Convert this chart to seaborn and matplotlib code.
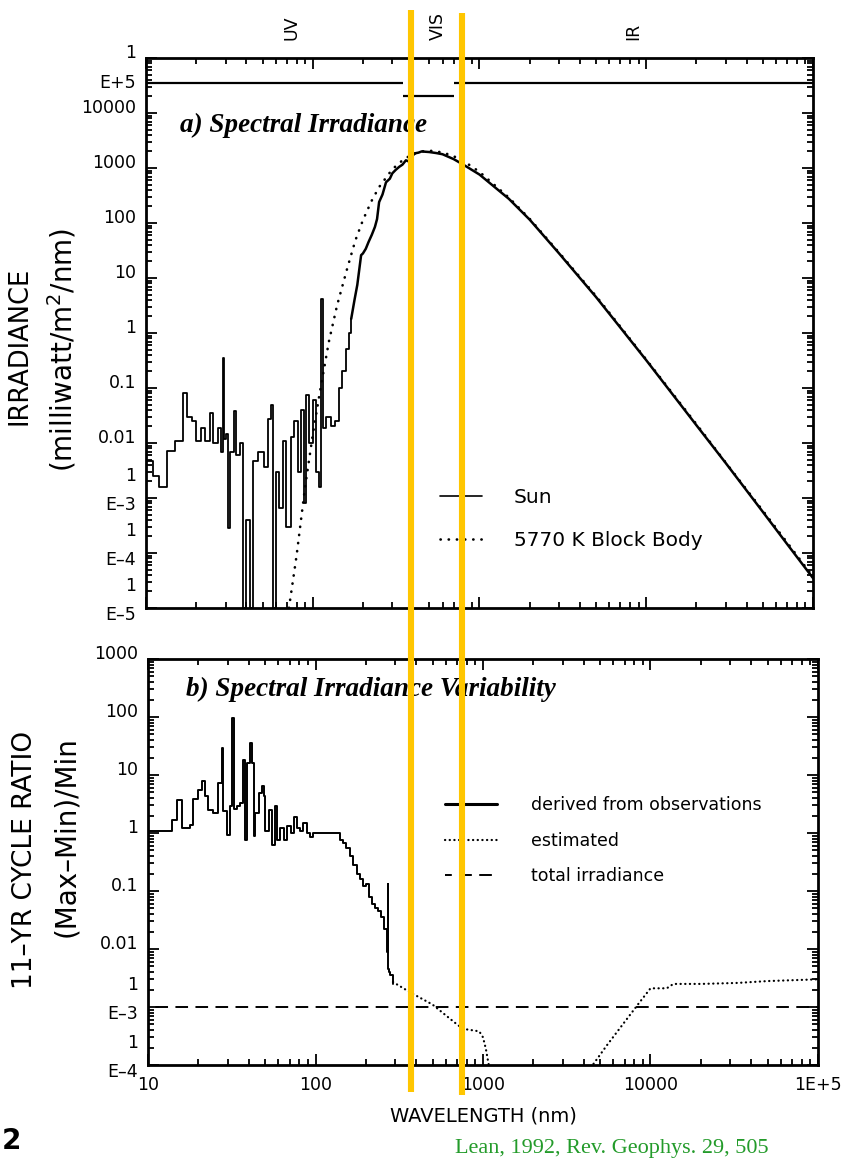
import numpy as np
import seaborn as sns
import matplotlib
matplotlib.use("Agg")
import matplotlib.pyplot as plt
from matplotlib.lines import Line2D
from matplotlib.ticker import LogLocator, NullFormatter
from matplotlib.transforms import ScaledTranslation, blended_transform_factory

# ---------------- a) spectral irradiance (mW/m2/nm) ----------------
# UV part of the measured sun spectrum (stepped)
sun_uv_wl = [10, 11, 12, 13.3, 14.9, 16.7, 17.5, 18.8, 20, 21.5, 22.6, 24.1, 25.2, 27,
             28.3, 28.9, 29.5, 30.3, 31, 31.7, 33.9, 34.7, 36.4, 38.1, 39.9, 41.8, 43.8,
             46.8, 51.3, 53.7, 56.3, 57.6, 60.2, 63, 65.9, 69, 74, 77.5, 81.2, 85, 89, 91,
             95.3, 100, 104.6, 109.5, 112, 114.5, 120, 128, 136, 144, 150, 158, 164, 170]
sun_uv_irr = [4.8e-3, 2.5e-3, 1.6e-3, 7.2e-3, 0.011, 0.08, 0.03, 0.025, 0.011, 0.019, 0.011,
              0.035, 0.010, 0.019, 0.007, 0.35, 0.012, 0.0145, 2.9e-4, 7e-3, 0.038, 6e-3,
              0.01, 1e-5, 3.9e-4, 1e-5, 4.8e-3, 7e-3, 3.7e-3, 0.027, 0.05, 1e-5, 3e-3,
              6.6e-4, 0.011, 3e-4, 0.013, 0.025, 3e-3, 0.04, 8e-4, 0.075, 0.01, 0.06, 3e-3,
              1.6e-3, 4.2, 0.019, 0.03, 0.02, 0.025, 0.1, 0.2, 0.52, 1.0, 1.8]
# rest of the sun spectrum
sun_wl = [170, 178, 185, 195, 200, 208, 216, 226, 236, 243, 250, 262, 275, 290, 300, 315,
          330, 345, 362, 380, 395, 410, 430, 450, 500, 550, 600, 700, 800, 1000, 1500,
          2000, 3000, 5000, 7000, 10000, 20000, 30000, 50000, 70000, 100000]
sun_irr = [1.8, 4, 7.5, 26, 28, 34, 45, 61, 85, 118, 240, 330, 550, 640, 800, 930, 1050,
           1150, 1380, 1300, 1650, 1850, 1900, 2000, 1950, 1870, 1780, 1450, 1150, 760,
           275, 115, 28, 4.5, 1.25, 0.32, 0.021, 4.3e-3, 5.6e-4, 1.45e-4, 3.5e-5]
# 5770 K black body
bb_wl = [72, 80, 90, 100, 110, 125, 140, 160, 180, 200, 225, 250, 300, 350, 400, 450, 500,
         600, 700, 850, 1000, 1500, 2000, 3000, 5000, 7000, 10000, 20000, 30000, 50000,
         70000, 100000]
bb_irr = [1e-5, 9e-5, 1.6e-3, 0.014, 0.08, 0.7, 3.2, 14, 48, 113, 250, 450, 950, 1430,
          1800, 2000, 2070, 1920, 1640, 1190, 850, 290, 119, 29, 4.7, 1.3, 0.33, 0.022,
          4.4e-3, 5.9e-4, 1.55e-4, 3.7e-5]

# UV / VIS / IR indicator bar at the top of panel a
band_edges = [10, 350, 700, 100000]
band_level = [3.5e4, 2.0e4, 3.5e4]
band_names = ["UV", "VIS", "IR"]
band_label_wl = [75, 560, 8300]

# visible range marked by the two yellow lines
vis_bounds = [372, 745]

# ---------------- b) 11-yr cycle variability ratio ----------------
obs_wl = [10, 13.9, 14.8, 15.9, 17.8, 18.6, 19.9, 20.9, 21.9, 22.9, 24.5, 26.3, 27.5, 28.1,
          29.5, 30.9, 31.6, 32.5, 33.8, 35.4, 37.1, 38.2, 38.9, 40.8, 41.5, 42.7, 43.7,
          45.7, 47.9, 49.0, 50.2, 52.5, 55.0, 57.5, 58.9, 61.5, 64.5, 67.6, 71.0, 74.0,
          77.5, 81.0, 84.6, 88.5, 92.6, 97.0, 106, 120, 140, 146, 153, 160, 168, 176,
          185, 193, 200, 209, 218, 226, 235, 245, 256, 266, 270, 272, 276, 280, 290]
obs_ratio = [1.1, 1.7, 3.75, 1.2, 1.4, 3.9, 5.6, 7.8, 4.3, 2.5, 2.2, 7.3, 29, 2.4, 0.93,
             2.9, 96, 2.6, 2.9, 3.3, 18.3, 0.77, 16, 35.6, 16, 0.89, 2.2, 4.9, 6.4, 4.3,
             1.08, 2.5, 0.62, 2.9, 0.77, 1.2, 0.77, 1.3, 1.0, 1.9, 1.2, 1.1, 1.5, 1.0,
             0.85, 1.0, 1.0, 1.0, 0.75, 0.67, 0.55, 0.4, 0.28, 0.2, 0.16, 0.12, 0.13,
             0.078, 0.06, 0.05, 0.045, 0.035, 0.022, 0.009, 0.13, 0.0045, 0.004, 0.0035,
             0.0025]
est_uv_wl = [290, 366, 500, 700, 760, 850, 950, 1000, 1040, 1070, 1090]
est_uv = [2.7e-3, 1.8e-3, 1.1e-3, 5e-4, 4.2e-4, 4e-4, 3.8e-4, 3e-4, 1.9e-4, 1.2e-4, 9e-5]
est_ir_wl = [4400, 5500, 7000, 8500, 10000, 12500, 13700, 20000, 33000, 50000, 100000]
est_ir = [9e-5, 2.2e-4, 5.5e-4, 1.15e-3, 2.1e-3, 2.1e-3, 2.5e-3, 2.5e-3, 2.6e-3, 2.8e-3,
          3.0e-3]
tsi_wl = [10, 100000]
tsi_ratio = [1e-3, 1e-3]

x_ticks = [10, 100, 1000, 10000, 100000]
x_labels = ["10", "100", "1000", "10000", "1E+5"]
a_exps = [-5, -4, -3, -2, -1, 0, 1, 2, 3, 4, 5]
a_labels = ["E\u20135", "E\u20134", "E\u20133", "0.01", "0.1", "1", "10", "100", "1000",
            "10000", "1"]
b_exps = [-4, -3, -2, -1, 0, 1, 2, 3]
b_labels = ["E\u20134", "E\u20133", "0.01", "0.1", "1", "10", "100", "1000"]

sns.set_theme(style="ticks")
plt.rcParams.update({
    "font.family": ["DejaVu Sans"],
    "axes.edgecolor": "black",
    "axes.linewidth": 2.0,
    "xtick.color": "black",
    "ytick.color": "black",
    "text.color": "black",
    "axes.labelcolor": "black",
})

W, H = 845, 1165
fig = plt.figure(figsize=(W / 100, H / 100), dpi=100)
ax_a = fig.add_axes([146 / W, 1 - 608 / H, 667 / W, 550 / H])
ax_b = fig.add_axes([148 / W, 1 - 1065 / H, 670 / W, 406 / H])
ink = "black"
dotted = (0, (0.1, 3.0))
fine_dots = (0, (0.1, 2.0))
dashed = (6.5, (6.5, 3.8))

# panel a
sns.lineplot(x=sun_uv_wl, y=sun_uv_irr, ax=ax_a, color=ink, lw=1.3,
             drawstyle="steps-post", estimator=None, sort=False)
sns.lineplot(x=sun_wl, y=sun_irr, ax=ax_a, color=ink, lw=1.8, estimator=None, sort=False)
sns.lineplot(x=bb_wl, y=bb_irr, ax=ax_a, color=ink, lw=1.9, linestyle=dotted,
             dash_capstyle="round", estimator=None, sort=False)
ax_a.hlines(band_level, band_edges[:-1], band_edges[1:], color=ink, lw=1.6)

# panel b
sns.lineplot(x=obs_wl, y=obs_ratio, ax=ax_b, color=ink, lw=1.4,
             drawstyle="steps-post", estimator=None, sort=False)
for wl, r in [(est_uv_wl, est_uv), (est_ir_wl, est_ir)]:
    sns.lineplot(x=wl, y=r, ax=ax_b, color=ink, lw=1.6, linestyle=fine_dots,
                 dash_capstyle="round", estimator=None, sort=False)
sns.lineplot(x=tsi_wl, y=tsi_ratio, ax=ax_b, color=ink, lw=1.4, linestyle=dashed,
             estimator=None, sort=False)


def style_axis(ax, exps, labels, ylim):
    ax.set_xscale("log")
    ax.set_yscale("log")
    ax.set_xlim(10, 1e5)
    ax.set_ylim(*ylim)
    ax.set_xlabel("")
    ax.set_ylabel("")
    ax.set_xticks(x_ticks, x_labels)
    ax.set_yticks([10.0 ** e for e in exps], labels)
    ax.xaxis.set_minor_locator(LogLocator(base=10, subs=np.arange(2, 10), numticks=100))
    ax.yaxis.set_minor_locator(LogLocator(base=10, subs=np.arange(2, 10), numticks=100))
    ax.xaxis.set_minor_formatter(NullFormatter())
    ax.yaxis.set_minor_formatter(NullFormatter())
    ax.tick_params(which="both", direction="in", top=True, right=True, width=1.3,
                   labelsize=12.5)
    ax.tick_params(which="major", length=8)
    ax.tick_params(which="minor", length=4)
    ax.tick_params(axis="y", pad=7)
    ax.tick_params(axis="x", pad=8)
    for s in ax.spines.values():
        s.set_linewidth(2.0)
    # the old plotter puts plain labels a bit above the tick, E labels a bit below
    for tick, lab in zip(ax.yaxis.get_major_ticks(), labels):
        dy = -5 if lab.startswith("E") else 7
        t = tick.label1
        t.set_transform(t.get_transform() + ScaledTranslation(0, dy / 100, fig.dpi_scale_trans))
    for e, lab in zip(exps, labels):
        if lab.startswith("E"):
            ax.annotate("1", xy=(0, 10.0 ** e), xycoords=("axes fraction", "data"),
                        xytext=(-7, 16), textcoords="offset points", ha="right",
                        va="center", fontsize=12.5)


style_axis(ax_a, a_exps, a_labels, (1e-5, 1e5))
style_axis(ax_b, b_exps, b_labels, (1e-4, 1e3))
ax_a.tick_params(labelbottom=False)
ax_a.annotate("E+5", xy=(0, 1e5), xycoords=("axes fraction", "data"), xytext=(-7, -18),
              textcoords="offset points", ha="right", va="center", fontsize=12.5)

# band names above panel a
band_tr = blended_transform_factory(ax_a.transData, ax_a.transAxes)
for wl, name in zip(band_label_wl, band_names):
    ax_a.text(wl, 1.033, name, transform=band_tr, rotation=90, ha="center", va="bottom",
              fontsize=12.5)

title_font = dict(family="Liberation Serif", fontsize=19.5, fontweight="bold",
                  fontstyle="italic")
ax_a.text(0.051, 0.878, "a) Spectral Irradiance", transform=ax_a.transAxes, ha="left",
          va="center", **title_font)
ax_b.text(0.057, 0.924, "b) Spectral Irradiance Variability", transform=ax_b.transAxes,
          ha="left", va="center", **title_font)

# legends
h_sun = Line2D([], [], color=ink, lw=1.2)
h_bb = Line2D([], [], color=ink, lw=1.9, ls=dotted, dash_capstyle="round")
ax_a.legend([h_sun, h_bb], ["Sun", "5770 K Block Body"], loc="upper left",
            bbox_to_anchor=(440 / W, 1 - 488 / H), bbox_transform=fig.transFigure,
            frameon=False, fontsize=14.5, handlelength=2.1, handletextpad=1.55,
            labelspacing=1.17, borderpad=0, borderaxespad=0)
h_obs = Line2D([], [], color=ink, lw=2.2)
h_est = Line2D([], [], color=ink, lw=1.6, ls=fine_dots, dash_capstyle="round")
h_tsi = Line2D([], [], color=ink, lw=1.4, ls=(3, (6.5, 3.8)))
ax_b.legend([h_obs, h_est, h_tsi],
            ["derived from observations", "estimated", "total irradiance"],
            loc="upper left", bbox_to_anchor=(445 / W, 1 - 796 / H),
            bbox_transform=fig.transFigure, frameon=False, fontsize=12.5,
            handlelength=3.0, handletextpad=1.95, labelspacing=1.02, borderpad=0,
            borderaxespad=0)

ax_b.set_xlabel("WAVELENGTH (nm)", fontsize=14, labelpad=9)

fig.text(20 / W, 1 - 346 / H, "IRRADIANCE", rotation=90, ha="center", va="center",
         fontsize=18.5)
fig.text(62 / W, 1 - 350 / H, "(milliwatt/m$^2$/nm)", rotation=90, ha="center",
         va="center", fontsize=20)
fig.text(25 / W, 1 - 860 / H, "11\u2013YR CYCLE RATIO", rotation=90, ha="center",
         va="center", fontsize=19)
fig.text(66 / W, 1 - 837 / H, "(Max\u2013Min)/Min", rotation=90, ha="center",
         va="center", fontsize=20)

fig.text(455 / W, 1 - 1148 / H, "Lean, 1992, Rev. Geophys. 29, 505", ha="left",
         va="center", family="Liberation Serif", fontsize=16, color="#239b2a")
fig.text(2 / W, 1 - 1141 / H, "2", ha="left", va="center", fontsize=20,
         fontweight="bold")

# yellow markers of the visible range across both panels
vis_tr = blended_transform_factory(ax_b.transData, fig.transFigure)
for wl, top, bottom in zip(vis_bounds, [10, 13], [1092, 1095]):
    fig.add_artist(Line2D([wl, wl], [1 - bottom / H, 1 - top / H], transform=vis_tr,
                          color="#FFC600", lw=4.4, solid_capstyle="butt", zorder=10))

fig.savefig("out.png", dpi=100, facecolor="white")
